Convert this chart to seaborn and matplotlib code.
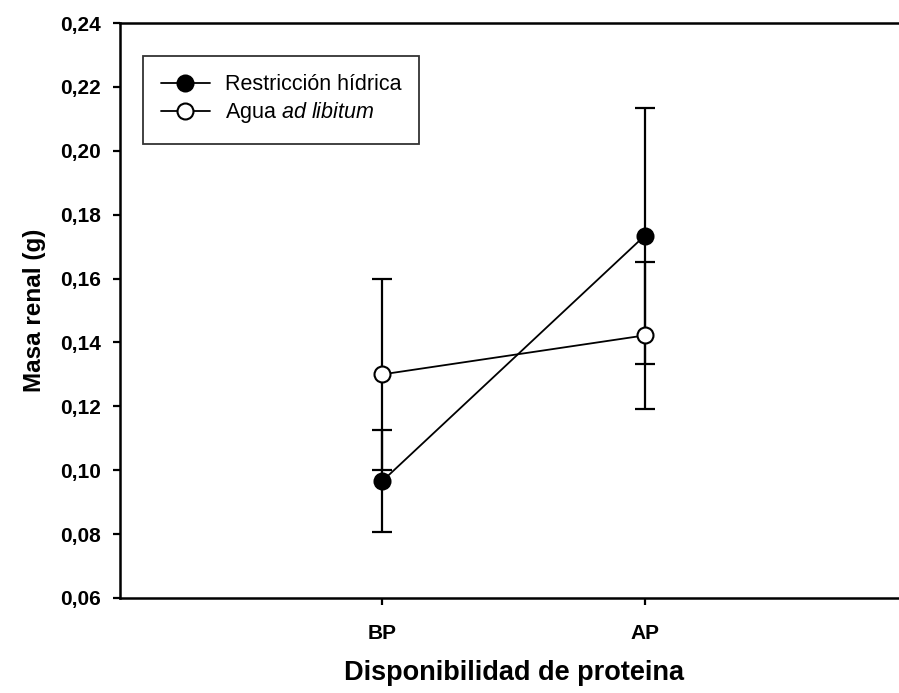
import matplotlib
matplotlib.use("Agg")
import matplotlib.pyplot as plt
import seaborn as sns
import pandas as pd

# Protein availability levels and kidney mass per water treatment
categories = ["BP", "AP"]
restriccion_mean = [0.0966, 0.1734]
restriccion_err = [0.0160, 0.0400]
libitum_mean = [0.1300, 0.1422]
libitum_err = [0.0300, 0.0230]
y_ticks = [0.06, 0.08, 0.10, 0.12, 0.14, 0.16, 0.18, 0.20, 0.22, 0.24]

sns.set_theme(style="ticks")
plt.rcParams["font.family"] = ["Liberation Sans", "DejaVu Sans"]
plt.rcParams["mathtext.fontset"] = "custom"
plt.rcParams["mathtext.it"] = "Liberation Sans:italic"
plt.rcParams["mathtext.rm"] = "Liberation Sans"
for key in ["text.color", "axes.labelcolor", "xtick.color", "ytick.color",
            "axes.edgecolor"]:
    plt.rcParams[key] = "black"

pos = [1, 2]
df = pd.DataFrame({
    "x": pos * 2,
    "masa": restriccion_mean + libitum_mean,
    "err": restriccion_err + libitum_err,
    "grupo": ["Restricción hídrica"] * 2 + ["Agua $\\it{ad\\ libitum}$"] * 2,
})

fig = plt.figure(figsize=(8.99, 6.93), dpi=100)
ax = fig.add_axes([0.1335, 0.1371, 0.8754, 0.8297])

styles = {
    "Restricción hídrica": "black",
    "Agua $\\it{ad\\ libitum}$": "white",
}
for grupo, face in styles.items():
    sub = df[df["grupo"] == grupo]
    ax.errorbar(sub["x"], sub["masa"], yerr=sub["err"], fmt="none",
                ecolor="black", elinewidth=1.6, capsize=7, capthick=1.6,
                zorder=2)
    sns.lineplot(data=sub, x="x", y="masa", ax=ax, color="black",
                 linewidth=1.3, marker="o", markersize=11.5,
                 markerfacecolor=face, markeredgecolor="black",
                 markeredgewidth=1.5, label=grupo, zorder=3,
                 errorbar=None)

ax.set_xlim(0, 3)
ax.set_ylim(0.06, 0.24)
ax.set_xticks(pos)
ax.set_xticklabels(categories)
ax.set_yticks(y_ticks)
ax.set_yticklabels([f"{v:.2f}".replace(".", ",") for v in y_ticks])

for lbl in ax.get_xticklabels() + ax.get_yticklabels():
    lbl.set_fontweight("bold")
    lbl.set_fontsize(15)

ax.tick_params(axis="x", direction="out", length=5, width=1.6,
               color="black", pad=14)
ax.tick_params(axis="y", direction="out", length=5, width=1.6,
               color="black", pad=9)

for side in ["left", "bottom", "top"]:
    ax.spines[side].set_linewidth(1.8)
    ax.spines[side].set_color("black")
ax.spines["right"].set_visible(False)

ax.set_xlabel("Disponibilidad de proteina", fontsize=19.5, fontweight="bold",
              labelpad=12)
ax.set_ylabel("Masa renal (g)", fontsize=17.5, fontweight="bold", labelpad=10)

leg = ax.legend(loc="upper left", bbox_to_anchor=(0.029, 0.943),
                frameon=True, fancybox=False, fontsize=15.5,
                handlelength=2.25, borderpad=0.85, labelspacing=0.25,
                handletextpad=0.7, borderaxespad=0)
leg.get_frame().set_edgecolor("black")
leg.get_frame().set_linewidth(1.3)

fig.savefig("out.png", dpi=100)
